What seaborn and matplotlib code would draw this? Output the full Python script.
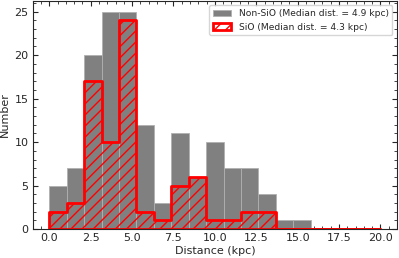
import numpy as np
import pandas as pd
import matplotlib
matplotlib.use("Agg")
import matplotlib.pyplot as plt
from matplotlib.ticker import AutoMinorLocator
import seaborn as sns

# 19 equal bins between 0 and 20 kpc
edges = list(np.linspace(0, 20, 20))
centers = [(a + b) / 2 for a, b in zip(edges[:-1], edges[1:])]

# counts per bin
non_sio = [5, 7, 20, 25, 25, 12, 3, 11, 6, 10, 7, 7, 4, 1, 1, 0, 0, 0, 0]
sio = [2, 3, 17, 10, 24, 2, 1, 5, 6, 1, 1, 2, 2, 0, 0, 0, 0, 0, 0]

df = pd.DataFrame({'dist': centers, 'non_sio': non_sio, 'sio': sio})

sns.set_style("ticks")
plt.rcParams['font.family'] = ['DejaVu Sans']
plt.rcParams['hatch.color'] = 'red'
plt.rcParams['hatch.linewidth'] = 1.0

fig, ax = plt.subplots(figsize=(3.99, 2.58), dpi=100)

sns.histplot(data=df, x='dist', weights='non_sio', bins=edges, color='gray', alpha=1,
             edgecolor='#b0b0b0', linewidth=0.6,
             label='Non-SiO (Median dist. = 4.9 kpc)', ax=ax)
sns.histplot(data=df, x='dist', weights='sio', bins=edges, element='step', fill=True,
             color='red', facecolor='none', edgecolor='red', hatch='///', linewidth=2,
             label='SiO (Median dist. = 4.3 kpc)', ax=ax)

ax.set_xlim(-1, 21)
ax.set_xlabel('Distance (kpc)', fontsize=8, labelpad=2)
ax.set_ylabel('Number', fontsize=8, labelpad=3)
ax.xaxis.set_minor_locator(AutoMinorLocator())
ax.yaxis.set_minor_locator(AutoMinorLocator())
ax.tick_params(which='both', direction='in', top=True, right=True, labelsize=8)
ax.tick_params(which='major', length=3.5, width=0.8, pad=3)
ax.tick_params(which='minor', length=2, width=0.6)

handles, labels = ax.get_legend_handles_labels()
order = [labels.index('Non-SiO (Median dist. = 4.9 kpc)'), labels.index('SiO (Median dist. = 4.3 kpc)')]
ax.legend([handles[i] for i in order], [labels[i] for i in order],
          loc='upper right', fontsize=6.6)

fig.subplots_adjust(left=0.082, right=0.995, bottom=0.112, top=0.997)
fig.savefig('out.png', dpi=100)
